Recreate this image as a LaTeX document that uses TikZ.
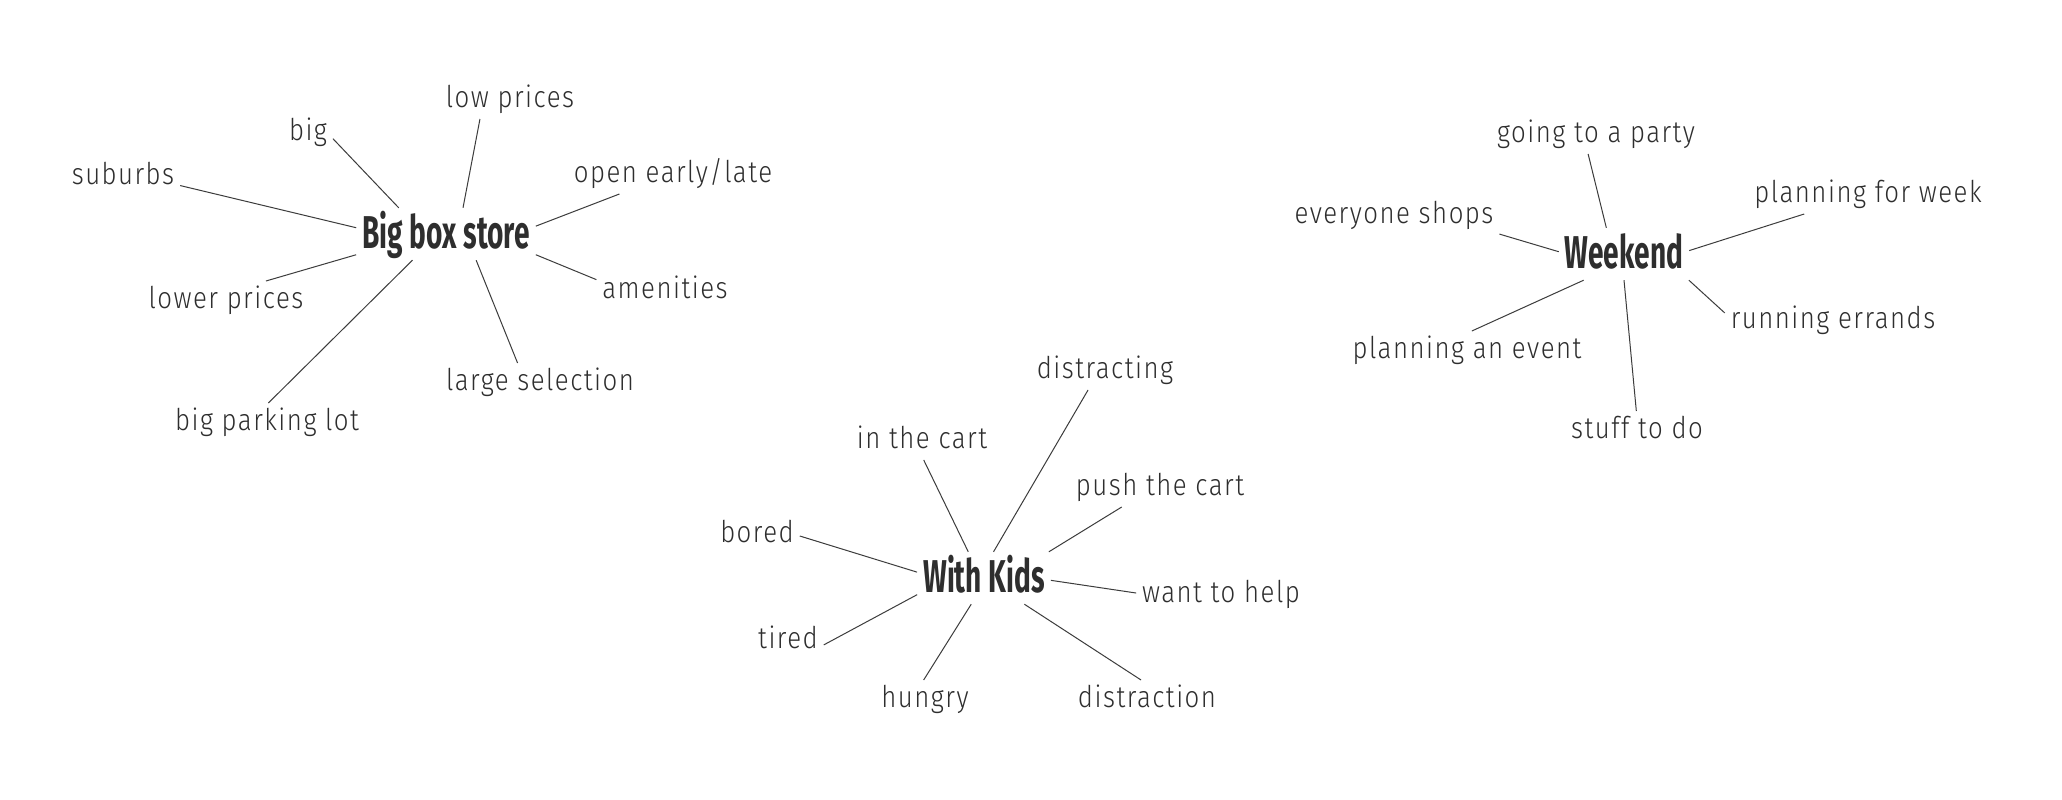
\documentclass[tikz,border=0pt]{standalone}
\usepackage{fontspec}
\newfontfamily\handfont{Fira Sans Light}[LetterSpace=5, FakeStretch=0.86]
\newfontfamily\handbold{Fira Sans}[FakeStretch=0.61]
\definecolor{ink}{HTML}{2E2E2E}
\definecolor{stroke}{HTML}{3C3C3C}

\begin{document}
\begin{tikzpicture}[x=1pt, y=-1pt,
  link/.style={draw=stroke, line width=1pt},
  every node/.append style={text=ink, anchor=base}]
  \tikzstyle{word} = [font=\handfont\fontsize{30}{34}\selectfont,
    text height=21pt, text depth=6pt, inner sep=3pt, outer sep=3pt]
  \tikzstyle{topic} = [font=\handbold\bfseries\fontsize{46}{50}\selectfont,
    text height=34pt, text depth=6pt, inner sep=6pt]
  \fill[white] (0,0) rectangle (2062,800);
  \useasboundingbox (0,0) rectangle (2062,800);

  % Big box store
  \node (1_0) [topic] at (446,248) {Big box store};
  \node (1_1) [word] at (510,107) {low prices};
  \node (1_2) [word] at (308,140) {big};
  \node (1_3) [word] at (123,184) {suburbs};
  \node (1_4) [word] at (673,182) {open early/late};
  \node (1_5) [word] at (226,308) {lower prices};
  \node (1_6) [word] at (665,298) {amenities};
  \node (1_7) [word] at (540,390) {large selection};
  \node (1_8) [word] at (267,430) {big parking lot};
  \draw[link] (1_0.57) -- (1_1.-147);
  \draw[link] (1_0.151) -- (1_2.-14);
  \draw[link] (1_0.176) -- (1_3.-9);
  \draw[link] (1_0.5) -- (1_4.-160);
  \draw[link] (1_0.193) -- (1_5.26);
  \draw[link] (1_0.-13.5) -- (1_6.171.5);
  \draw[link] (1_0.-41) -- (1_7.139);
  \draw[link] (1_0.-142) -- (1_8.86);

  % With Kids
  \node (2_0) [topic] at (984,592) {With Kids};
  \node (2_1) [word] at (1105,378) {distracting};
  \node (2_2) [word] at (922,448) {in the cart};
  \node (2_3) [word] at (1160,495) {push the cart};
  \node (2_4) [word] at (757,542) {bored};
  \node (2_5) [word] at (1221,602) {want to help};
  \node (2_6) [word] at (788,648) {tired};
  \node (2_7) [word] at (925,707) {hungry};
  \node (2_8) [word] at (1147,707) {distraction};
  \draw[link] (2_0.70) -- (2_1.-131);
  \draw[link] (2_0.121) -- (2_2.-85);
  \draw[link] (2_0.22) -- (2_3.-153);
  \draw[link] (2_0.175.5) -- (2_4.-2);
  \draw[link] (2_0.-2.4) -- (2_5.179);
  \draw[link] (2_0.-166.5) -- (2_6.-7);
  \draw[link] (2_0.-116.6) -- (2_7.94);
  \draw[link] (2_0.-33) -- (2_8.107);

  % Weekend
  \node (3_0) [topic] at (1624,268) {Weekend};
  \node (3_1) [word] at (1596,142) {going to a party};
  \node (3_2) [word] at (1394,223) {everyone shops};
  \node (3_3) [word] at (1868,202) {planning for week};
  \node (3_4) [word] at (1833,328) {running errands};
  \node (3_5) [word] at (1467,358) {planning an event};
  \node (3_6) [word] at (1637,438) {stuff to do};
  \draw[link] (3_0.124) -- (3_1.-112);
  \draw[link] (3_0.178) -- (3_2.-10);
  \draw[link] (3_0.3) -- (3_3.-163.5);
  \draw[link] (3_0.-22.2) -- (3_4.176);
  \draw[link] (3_0.-147.8) -- (3_5.76);
  \draw[link] (3_0.-90) -- (3_6.92);
\end{tikzpicture}
\end{document}
